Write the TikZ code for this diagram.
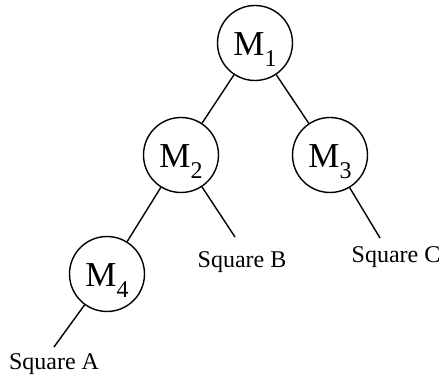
\documentclass[tikz,border=0pt]{standalone}
\usepackage{fontspec}
\setmainfont{Liberation Serif}
\newcommand{\mlabel}[1]{{\fontsize{35}{35}\selectfont M}\raisebox{-11pt}{\fontsize{24}{24}\selectfont #1}}
\begin{document}
\begin{tikzpicture}[x=1pt,y=-1pt,
  circ/.style={draw,circle,line width=1.4pt,minimum size=75pt,inner sep=0pt},
  mtext/.style={anchor=base,inner sep=0pt},
  sqtext/.style={anchor=base,inner sep=0pt,font=\fontsize{24}{24}\selectfont},
  edge/.style={line width=1.4pt}]
\useasboundingbox (0,0) rectangle (440,377);
\node[circ] (m1) at (255,43) {};
\node[circ] (m2) at (181,155) {};
\node[circ] (m3) at (330,155) {};
\node[circ] (m4) at (107,274) {};
\node[mtext] (m1t) at (255,56) {\mlabel{1}};
\node[mtext] (m2t) at (181,168) {\mlabel{2}};
\node[mtext] (m3t) at (330,168) {\mlabel{3}};
\node[mtext] (m4t) at (107,287) {\mlabel{4}};
\coordinate (eb) at (235,237);
\coordinate (ec) at (380,238);
\coordinate (ea) at (54,347);
\node[sqtext] (sb) at (242,268) {Square B};
\node[sqtext] (sc) at (396,263) {Square C};
\node[sqtext] (sa) at (54,370) {Square A};
\draw[edge] (m1) -- (m2);
\draw[edge] (m1) -- (m3);
\draw[edge] (m2) -- (m4);
\draw[edge] (m2) -- (eb);
\draw[edge] (m3) -- (ec);
\draw[edge] (m4) -- (ea);
\end{tikzpicture}
\end{document}
